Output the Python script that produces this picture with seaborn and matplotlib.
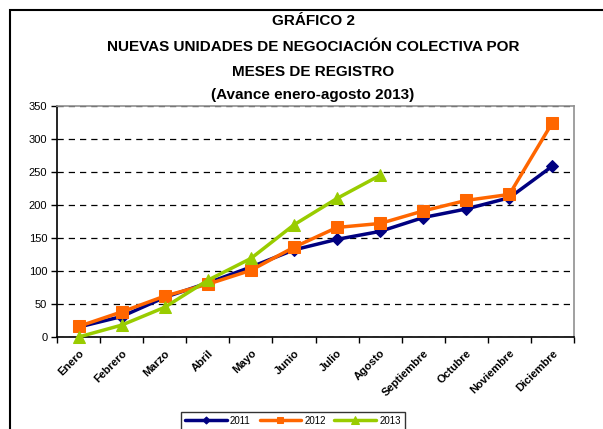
import matplotlib
matplotlib.use("Agg")
import matplotlib.pyplot as plt
import matplotlib.patches as mpatches
import matplotlib.transforms as mtransforms
from matplotlib.ticker import FixedLocator, MultipleLocator
import seaborn as sns
import pandas as pd

months = ["Enero", "Febrero", "Marzo", "Abril", "Mayo", "Junio", "Julio",
          "Agosto", "Septiembre", "Octubre", "Noviembre", "Diciembre"]
v2011 = [15, 31, 60, 82, 106, 132, 148, 160, 181, 194, 211, 259]
v2012 = [16, 38, 62, 80, 101, 136, 166, 172, 191, 207, 216, 325]
v2013 = [0, 18, 45, 86, 119, 170, 210, 245]

rows = []
for name, vals in [("2011", v2011), ("2012", v2012), ("2013", v2013)]:
    for i, v in enumerate(vals):
        rows.append({"idx": i, "valor": v, "serie": name})
df = pd.DataFrame(rows)

sns.set_theme(style="white")
plt.rcParams["font.family"] = ["Liberation Sans", "DejaVu Sans"]
plt.rcParams["text.color"] = "black"
plt.rcParams["xtick.color"] = "black"
plt.rcParams["ytick.color"] = "black"
plt.rcParams["axes.labelcolor"] = "black"

fig = plt.figure(figsize=(6.03, 4.29), dpi=100)
ax = fig.add_axes([57/603, 1-337/429, (574-57)/603, (337-106)/429])

palette = {"2011": "#000080", "2012": "#FF6600", "2013": "#99CC00"}
markers = {"2011": "D", "2012": "s", "2013": "^"}
sizes = {"2011": 6, "2012": 8, "2013": 9}
for name in ["2011", "2012", "2013"]:
    sub = df[df["serie"] == name]
    sns.lineplot(data=sub, x="idx", y="valor", ax=ax, color=palette[name],
                 marker=markers[name], markersize=sizes[name], linewidth=2.5,
                 markeredgecolor=palette[name], label=name, sort=False,
                 clip_on=False, zorder=3)

ax.set_xlim(-0.5, 11.5)
ax.set_ylim(0, 350)
ax.set_xlabel("")
ax.set_ylabel("")
ax.yaxis.set_major_locator(MultipleLocator(50))
ax.set_xticks(range(12))
ax.set_xticklabels(months, rotation=45, ha="right", rotation_mode="anchor",
                   fontsize=8, fontweight="bold", color="black")
offset = mtransforms.ScaledTranslation(-6/100, -3/100, fig.dpi_scale_trans)
for lab in ax.get_xticklabels():
    lab.set_transform(lab.get_transform() + offset)
ax.xaxis.set_minor_locator(FixedLocator([i - 0.5 for i in range(13)]))
ax.tick_params(axis="x", which="major", length=0, pad=8)
ax.tick_params(axis="x", which="minor", length=4, width=1, color="black", direction="out", bottom=True)
ax.tick_params(axis="y", length=4, width=1, color="black", direction="out", left=True, labelsize=8, pad=3, labelcolor="black")

ax.grid(axis="y", color="black", linestyle=(0, (5, 4)), linewidth=0.9)
ax.set_axisbelow(True)
ax.spines["left"].set_color("black")
ax.spines["bottom"].set_color("black")
ax.spines["top"].set_color("#909090")
ax.spines["right"].set_color("#909090")
for s in ax.spines.values():
    s.set_linewidth(1.2)

title_lines = ["GRÁFICO 2", "NUEVAS UNIDADES DE NEGOCIACIÓN COLECTIVA POR",
               "MESES DE REGISTRO", "(Avance enero-agosto 2013)"]
ys = [21, 47, 72, 95]
for t, y in zip(title_lines, ys):
    fig.text(313/603, 1 - y/429, t, ha="center", va="center",
             fontsize=11, fontweight="bold", color="black")

if ax.legend_:
    ax.legend_.remove()
handles, labels = ax.get_legend_handles_labels()
leg = fig.legend(handles, labels, loc="upper center", bbox_to_anchor=(293/603, 1 - 407/429),
                 ncol=3, fontsize=7, frameon=True, fancybox=False, borderpad=0.4,
                 handlelength=4.3, columnspacing=0.9, handletextpad=0.3, markerscale=0.6,
                 labelcolor="black")
leg.get_frame().set_edgecolor("black")
leg.get_frame().set_linewidth(1)

fig.patches.append(mpatches.Rectangle((10/603, -0.1), 1.2, 1 - 10/429 + 0.1,
                                      transform=fig.transFigure, fill=False,
                                      edgecolor="black", linewidth=1.5))

fig.savefig("out.png", dpi=100)
